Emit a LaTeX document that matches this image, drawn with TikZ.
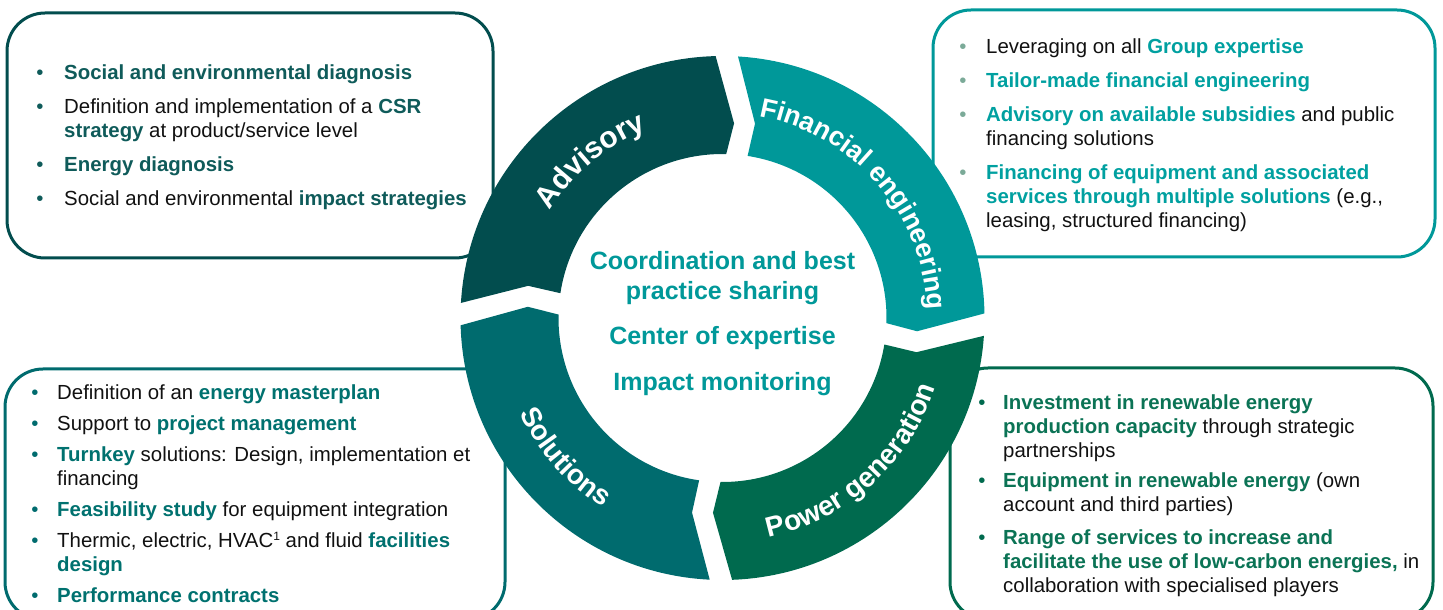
\documentclass[tikz,border=0pt]{standalone}
\usepackage{fontspec}
\setmainfont{Liberation Sans}
\usetikzlibrary{decorations.text}
\definecolor{advc}{HTML}{024D4E}
\definecolor{finc}{HTML}{009899}
\definecolor{powc}{HTML}{006A4E}
\definecolor{solc}{HTML}{006B6E}
\definecolor{hA}{HTML}{0F5B5A}
\definecolor{hB}{HTML}{00A0A0}
\definecolor{hC}{HTML}{00716F}
\definecolor{hD}{HTML}{0B7355}
\definecolor{bulB}{HTML}{7BAA98}
\definecolor{txtc}{HTML}{111111}
\newcommand\hlA[1]{\textcolor{hA}{\bfseries #1}}
\newcommand\hlB[1]{\textcolor{hB}{\bfseries #1}}
\newcommand\hlC[1]{\textcolor{hC}{\bfseries #1}}
\newcommand\hlD[1]{\textcolor{hD}{\bfseries #1}}
\newcommand\supone{\raisebox{7pt}{\fontsize{12}{12}\selectfont 1}}
\newcommand\ringfont{\fontsize{28}{28}\selectfont\bfseries}
\newcommand\ringfontA{\fontsize{30}{30}\selectfont\bfseries}
\newcommand\ringfontB{\fontsize{27}{27}\selectfont\bfseries}
\tikzset{
  box/.style={draw, line width=3pt, rounded corners=38pt, inner sep=0pt},
  txt/.style={anchor=base west, inner sep=0pt, font=\fontsize{20.4}{24}\selectfont, text=txtc},
  bul/.style={anchor=base, inner sep=0pt, font=\fontsize{20.4}{24}\selectfont},
  ctr/.style={anchor=base, inner sep=0pt, font=\fontsize{25}{29}\selectfont\bfseries, text=finc},
  ringtxt/.style={decorate, decoration={text along path, text align=center, text color=white}}
}
\begin{document}
\begin{tikzpicture}[x=1pt,y=1pt]
\useasboundingbox (0,0) rectangle (1443,610);
\clip (0,0) rectangle (1443,610);
% boxes
\node[box, draw=advc, minimum width=486pt, minimum height=245pt] (box1) at (250,474.5) {};
\node[box, draw=finc, minimum width=502pt, minimum height=247pt] (box2) at (1184,476.5) {};
\node[box, draw=solc, minimum width=500pt, minimum height=251pt] (box3) at (255,115.5) {};
\node[box, draw=powc, minimum width=483pt, minimum height=252pt] (box4) at (1191.5,116) {};

% box 1
\node[bul, text=hA] (d11) at (40,530) {•};
\node[txt] (l11) at (64,530) {\hlA{Social and environmental diagnosis}};
\node[bul, text=hA] (d12) at (40,496) {•};
\node[txt] (l12) at (64,496) {Definition and implementation of a \hlA{CSR}};
\node[txt] (l13) at (64,472) {\hlA{strategy} at product/service level};
\node[bul, text=hA] (d13) at (40,438) {•};
\node[txt] (l14) at (64,438) {\hlA{Energy diagnosis}};
\node[bul, text=hA] (d14) at (40,404) {•};
\node[txt] (l15) at (64,404) {Social and environmental \hlA{impact strategies}};

% box 2
\node[bul, text=bulB] (d21) at (963,556) {•};
\node[txt] (l21) at (986,556) {Leveraging on all \hlB{Group expertise}};
\node[bul, text=bulB] (d22) at (963,522) {•};
\node[txt] (l22) at (986,522) {\hlB{Tailor-made financial engineering}};
\node[bul, text=bulB] (d23) at (963,488) {•};
\node[txt] (l23) at (986,488) {\hlB{Advisory on available subsidies} and public};
\node[txt] (l24) at (986,464) {financing solutions};
\node[bul, text=bulB] (d24) at (963,430) {•};
\node[txt] (l25) at (986,430) {\hlB{Financing of equipment and associated}};
\node[txt] (l26) at (986,406) {\hlB{services through multiple solutions} (e.g.,};
\node[txt] (l27) at (986,382) {leasing, structured financing)};

% box 3
\node[bul, text=solc] (d31) at (35,210) {•};
\node[txt] (l31) at (57,210) {Definition of an \hlC{energy masterplan}};
\node[bul, text=solc] (d32) at (35,179) {•};
\node[txt] (l32) at (57,179) {Support to \hlC{project management}};
\node[bul, text=solc] (d33) at (35,148) {•};
\node[txt] (l33) at (57,148) {\hlC{Turnkey} solutions: Design, implementation et};
\node[txt] (l34) at (57,124) {financing};
\node[bul, text=solc] (d34) at (35,93) {•};
\node[txt] (l35) at (57,93) {\hlC{Feasibility study} for equipment integration};
\node[bul, text=solc] (d35) at (35,62) {•};
\node[txt] (l36) at (57,62) {Thermic, electric, HVAC\supone{} and fluid \hlC{facilities}};
\node[txt] (l37) at (57,38) {\hlC{design}};
\node[bul, text=solc] (d36) at (35,7) {•};
\node[txt] (l38) at (57,7) {\hlC{Performance contracts}};

% box 4
\node[bul, text=powc] (d41) at (982,200) {•};
\node[txt] (l41) at (1003,200) {\hlD{Investment in renewable energy}};
\node[txt] (l42) at (1003,176) {\hlD{production capacity} through strategic};
\node[txt] (l43) at (1003,152) {partnerships};
\node[bul, text=powc] (d42) at (982,122) {•};
\node[txt] (l44) at (1003,122) {\hlD{Equipment in renewable energy} (own};
\node[txt] (l45) at (1003,98) {account and third parties)};
\node[bul, text=powc] (d43) at (982,65) {•};
\node[txt] (l46) at (1003,65) {\hlD{Range of services to increase and}};
\node[txt] (l47) at (1003,41) {\hlD{facilitate the use of low-carbon energies,} in};
\node[txt] (l48) at (1003,17) {collaboration with specialised players};

% ring
\begin{scope}[shift={(722.5,292)}]
\fill[advc] (176.7:262pt) arc[start angle=176.7, end angle=91.5, radius=262pt] -- (86.6:195pt) -- (88.7:164pt) arc[start angle=88.7, end angle=171.3, radius=164pt] -- (170.6:197pt) -- cycle;
\fill[finc] (86.6:262pt) arc[start angle=86.6, end angle=1.0, radius=262pt] -- (-3.9:195pt) -- (-1.8:164pt) arc[start angle=-1.8, end angle=81.2, radius=164pt] -- (80.5:197pt) -- cycle;
\fill[powc] (-3.9:262pt) arc[start angle=-3.9, end angle=-87.9, radius=262pt] -- (-92.8:195pt) -- (-90.7:164pt) arc[start angle=-90.7, end angle=-9.3, radius=164pt] -- (-10.0:197pt) -- cycle;
\fill[solc] (267.2:262pt) arc[start angle=267.2, end angle=181.6, radius=262pt] -- (176.7:195pt) -- (178.8:164pt) arc[start angle=178.8, end angle=261.8, radius=164pt] -- (261.1:197pt) -- cycle;

\path[ringtxt, decoration={text={|\ringfontA|Advisory}}] (176:203pt) arc[start angle=176, end angle=84, radius=203pt];
\path[ringtxt, decoration={text={|\ringfontB|Financial engineering}}] (86:205pt) arc[start angle=86, end angle=-4, radius=205pt];
\path[ringtxt, decoration={text={|\ringfont|Power generation}}] (-93:224pt) arc[start angle=-93, end angle=-3, radius=224pt];
\path[ringtxt, decoration={text={|\ringfont|Solutions}}] (176.5:224pt) arc[start angle=176.5, end angle=266.5, radius=224pt];
\end{scope}

% centre
\node[ctr] (c1) at (722.5,340) {Coordination and best};
\node[ctr] (c2) at (722.5,310) {practice sharing};
\node[ctr] (c3) at (722.5,265) {Center of expertise};
\node[ctr] (c4) at (722.5,219) {Impact monitoring};
\end{tikzpicture}
\end{document}
